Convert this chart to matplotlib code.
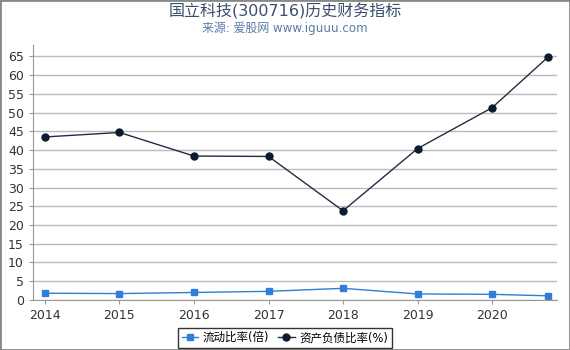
import matplotlib
matplotlib.use("Agg")
import matplotlib.pyplot as plt
from matplotlib.patches import Rectangle

plt.rcParams['font.family'] = ['DejaVu Sans', 'Noto Sans CJK SC']

years = [2014, 2015, 2016, 2017, 2018, 2019, 2020, 2020.75]
xticks = [2014, 2015, 2016, 2017, 2018, 2019, 2020]
current_ratio = [1.8, 1.7, 2.0, 2.3, 3.1, 1.6, 1.5, 1.1]
debt_ratio = [43.5, 44.7, 38.4, 38.3, 23.8, 40.4, 51.3, 64.8]
yticks = list(range(0, 70, 5))

fig = plt.figure(figsize=(5.7, 3.5), dpi=100)
ax = fig.add_axes([0.058, 0.143, 0.919, 0.728])

ax.plot(years, current_ratio, color='#2f7ed8', marker='s', markersize=5, linewidth=1,
        label='流动比率(倍)')
ax.plot(years, debt_ratio, color='#1f2d45', marker='o', markersize=5, linewidth=1,
        markerfacecolor='#0d1b2e', markeredgecolor='#0d1b2e', label='资产负债比率(%)')

ax.set_xlim(2013.84, 2020.87)
ax.set_ylim(0, 68)
ax.set_yticks(yticks)
ax.set_xticks(xticks)
ax.set_xticklabels([str(x) for x in xticks])
ax.grid(axis='y', color='#bbbbbb', linewidth=1)
ax.set_axisbelow(True)
for s in ['top', 'right']:
    ax.spines[s].set_visible(False)
for s in ['left', 'bottom']:
    ax.spines[s].set_color('#999999')
ax.tick_params(axis='both', colors='#999999', labelcolor='#333333', labelsize=9, length=3)

fig.text(0.5, 0.966, '国立科技(300716)历史财务指标', ha='center', va='center',
         fontsize=11.5, color='#3a4f6b')
fig.text(0.5, 0.918, '来源: 爱股网 www.iguuu.com', ha='center', va='center',
         fontsize=8.6, color='#5a7ca8')

leg = fig.legend(loc='center', bbox_to_anchor=(0.5, 0.035), ncol=2, fontsize=8.3,
                 frameon=True, fancybox=False, handlelength=1.4, handletextpad=0.4,
                 columnspacing=0.8, borderpad=0.3)
leg.get_frame().set_edgecolor('black')
leg.get_frame().set_linewidth(1)

fig.patches.append(Rectangle((0, 0), 1, 1, transform=fig.transFigure, fill=False,
                             edgecolor='#888888', linewidth=2))

fig.savefig('out.png', dpi=100)
